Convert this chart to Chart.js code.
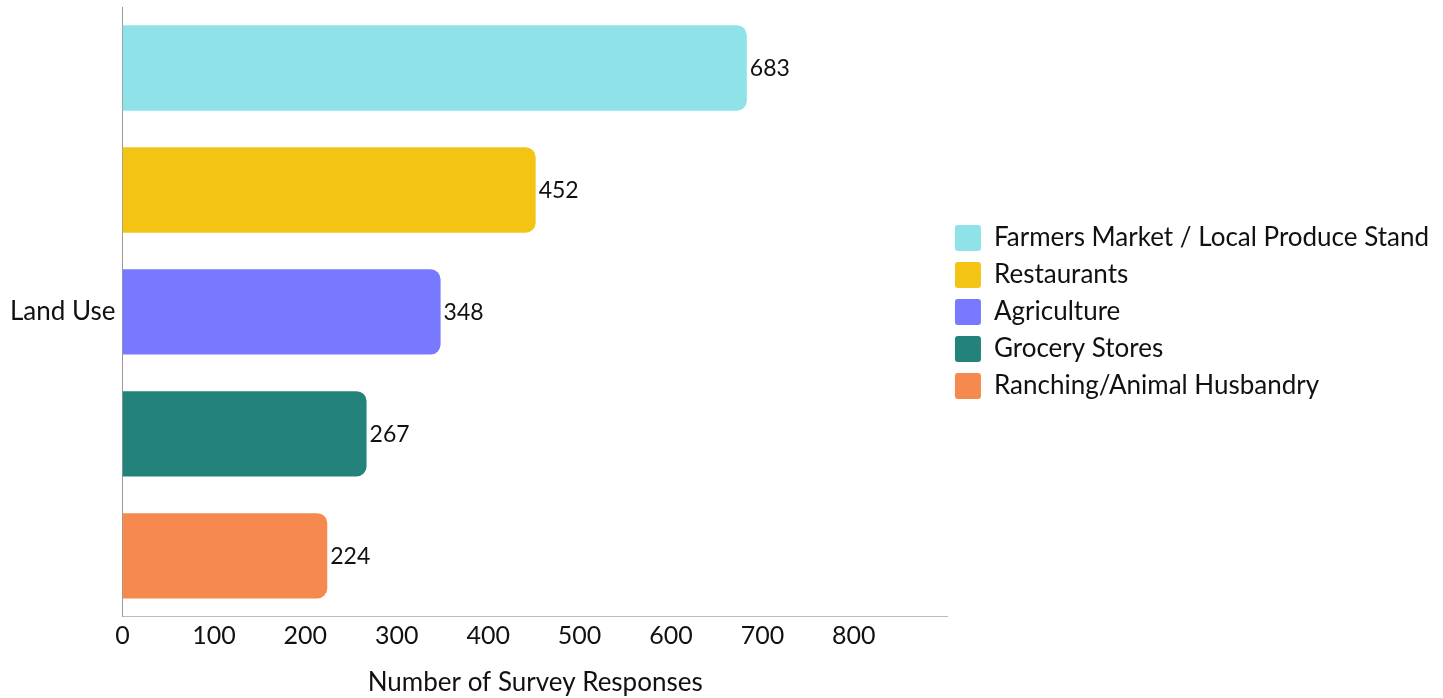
<!DOCTYPE html>
<html>
<head>
<meta charset="utf-8">
<script src="https://cdn.jsdelivr.net/npm/chart.js@4"></script>
<style>
  html, body { margin: 0; padding: 0; background: #fff; }
  #wrap { width: 1443px; height: 698px; }
</style>
</head>
<body>
<div id="wrap"><canvas id="chartUso"></canvas></div>
<script>
// Datos de la encuesta
const categories = ['Land Use'];
const seriesNames = [
  'Farmers Market / Local Produce Stand',
  'Restaurants',
  'Agriculture',
  'Grocery Stores',
  'Ranching/Animal Husbandry',
];
const seriesValues = [683, 452, 348, 267, 224];
const seriesColors = ['#8FE3E8', '#F4C414', '#7879FF', '#23837B', '#F5894E'];
const xTicks = [0, 100, 200, 300, 400, 500, 600, 700, 800];

const FONT = 'Lato';

// Etiquetas de valor al final de cada barra
const valueLabels = {
  id: 'valueLabels',
  afterDatasetsDraw(chart) {
    const { ctx } = chart;
    ctx.save();
    ctx.font = `23px ${FONT}`;
    ctx.fillStyle = '#111';
    ctx.textBaseline = 'middle';
    ctx.textAlign = 'left';
    chart.data.datasets.forEach((ds, i) => {
      const meta = chart.getDatasetMeta(i);
      meta.data.forEach((bar, j) => {
        ctx.fillText(String(ds.data[j]), bar.x + 3, bar.y + 1);
      });
    });
    ctx.restore();
  }
};

// Acerca la leyenda un poco al área del gráfico
const legendShift = {
  id: 'legendShift',
  afterLayout(chart) {
    if (chart.legend) {
      chart.legend.left -= 4;
      chart.legend.right -= 4;
    }
  }
};

new Chart(document.getElementById('chartUso'), {
  type: 'bar',
  data: {
    labels: categories,
    datasets: seriesNames.map((name, i) => ({
      label: name,
      data: [seriesValues[i]],
      backgroundColor: seriesColors[i],
      borderWidth: 0,
      borderSkipped: false,
      borderRadius: { topLeft: 0, bottomLeft: 0, topRight: 10, bottomRight: 10 },
      barPercentage: 0.7,
      categoryPercentage: 1,
    }))
  },
  options: {
    indexAxis: 'y',
    responsive: true,
    maintainAspectRatio: false,
    animation: false,
    layout: { padding: { top: 0, right: 0, left: 10, bottom: 0 } },
    scales: {
      x: {
        min: 0,
        max: 903,
        afterBuildTicks(axis) {
          axis.ticks = xTicks.map(v => ({ value: v }));
        },
        grid: { display: false, drawTicks: true, tickLength: 4, color: '#bbb' },
        border: { display: true, color: '#bbb' },
        ticks: { color: '#111', font: { family: FONT, size: 25 }, padding: 0 },
        title: {
          display: true,
          text: 'Number of Survey Responses',
          color: '#111',
          font: { family: FONT, size: 26 },
          padding: { top: 16, bottom: 0 },
        },
      },
      y: {
        afterFit(axis) {
          axis.paddingTop = 7;
          axis.paddingBottom = 0;
        },
        grid: { display: false, drawTicks: true, tickLength: 7, color: '#999' },
        border: { display: true, color: '#999' },
        ticks: { color: '#111', font: { family: FONT, size: 26 }, padding: 0 },
      }
    },
    plugins: {
      legend: {
        position: 'right',
        align: 'center',
        fullSize: false,
        maxWidth: 520,
        labels: {
          color: '#111',
          font: { family: FONT, size: 26 },
          boxWidth: 26,
          boxHeight: 26,
          padding: 11,
          useBorderRadius: true,
          borderRadius: 3,
        },
      },
      tooltip: { enabled: false },
    }
  },
  plugins: [valueLabels, legendShift]
});
</script>
</body>
</html>
